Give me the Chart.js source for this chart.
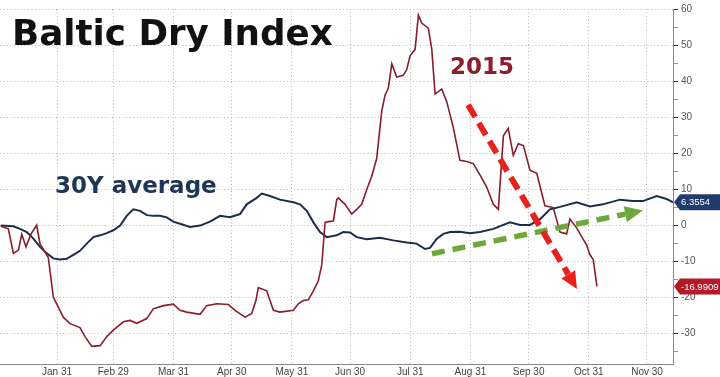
<!DOCTYPE html>
<html><head><meta charset="utf-8">
<script src="https://cdn.jsdelivr.net/npm/chart.js@4.4.0/dist/chart.umd.min.js"></script>
<style>html,body{margin:0;padding:0;background:#fff}#wrap{width:720px;height:377px;position:relative}</style>
</head><body><div id="wrap"><canvas id="c" width="720" height="377"></canvas></div>
<script>
// ---- data ----
const monthTickDays = [30, 59, 90, 120, 151, 181, 212, 243, 273, 304, 334];
const monthTickLabels = ['Jan 31','Feb 29','Mar 31','Apr 30','May 31','Jun 30','Jul 31','Aug 31','Sep 30','Oct 31','Nov 30'];

const avgDays = [1,7.5,10.9,14.4,17.8,21.2,24.7,28.1,31.5,35,38.4,41.8,45.3,48.7,52.2,55.6,59,62.5,65.9,69.3,72.8,76.2,79.6,83.1,86.5,89.9,93.4,98.5,103.7,108.8,114,119.1,124.3,127.7,132.9,135.5,139.7,144.9,151.8,155.2,158.7,162.1,165.5,169,174.1,177.5,181,184.4,189.6,196.4,203.3,210.2,215.3,219.6,222.2,225.6,229,232.5,237.6,242.8,247.9,254.8,263.4,268.6,273.7,278.9,284,289.2,297.8,304.6,311.3,320.1,326.8,331.9,339,344.1,347.4];
const avgValues = [-0.1,-0.3,-1.0,-1.9,-3.7,-6.0,-7.8,-9.2,-9.5,-9.3,-8.2,-7.1,-5.1,-3.3,-2.8,-2.2,-1.4,-0.1,2.6,4.4,4.0,2.8,2.6,2.6,2.2,1.0,0.4,-0.5,-0.1,1.0,2.6,2.2,3.1,5.8,7.6,8.8,8.1,7.1,6.4,5.8,4.0,0.8,-1.9,-3.3,-2.8,-1.9,-2.0,-3.3,-3.9,-3.5,-4.2,-4.8,-5.1,-6.6,-6.3,-3.8,-2.4,-1.9,-1.8,-2.2,-1.9,-1.0,0.8,0.1,0.1,1.7,4.4,5.1,6.4,5.2,5.8,7.1,6.7,6.7,8.1,7.3,6.3554];

const bdiDays = [1,4.9,7.5,10.1,11.8,14,16.6,19.5,21.2,25.5,28.1,29.8,33.2,36.7,41.8,44.4,47.9,52.2,55.6,59,64.2,67.6,71.1,76.2,79.6,84.8,89.9,93.4,96.8,103.7,107.1,112.3,118.3,121.7,126.9,130.3,132.5,133.7,138,141.5,144.9,151.8,154.3,156.9,159.5,162.1,164.6,166.4,168.1,169.8,172.4,174.1,175,178.4,181.8,184.4,187,189.6,192.1,194.7,197.3,199,200.7,202.5,205,208.4,210.2,211.9,214.5,216.2,217.9,221.3,223.1,224.8,228.2,230.8,234.2,237.6,241.1,244.5,248,251.4,254.8,257.4,260,262.5,265.1,267.7,270.3,273.7,277.2,281.4,285.7,289.2,292.6,294.3,297.8,302.9,304.6,306.3,308.2];
const bdiValues = [-0.3,-1.0,-7.8,-6.9,-2.5,-6.0,-2.4,0,-5.1,-9.0,-20.0,-21.8,-25.5,-27.3,-28.4,-30.9,-33.6,-33.4,-30.9,-29.1,-26.8,-26.4,-27.2,-25.9,-23.2,-22.3,-21.9,-23.6,-24.1,-24.7,-22.3,-21.8,-22.0,-23.6,-25.5,-24.5,-20.9,-17.3,-18.2,-23.6,-24.1,-23.6,-21.8,-20.9,-20.7,-18.2,-15.5,-11.0,0.8,1.0,1.2,7.1,7.6,5.8,3.1,4.4,5.8,9.9,13.5,18.5,31.6,36.1,38.0,44.8,41.1,41.6,43.2,47.0,48.8,58.3,56.1,54.7,48.8,36.4,37.8,34.3,27.1,18.0,17.7,17.1,13.9,10.6,5.8,4.4,24.8,26.9,19.4,22.6,22.1,15.3,14.4,5.4,4.9,-1.9,-2.4,1.7,-0.8,-5.5,-8.2,-9.5,-16.9909];

// ---- styles ----
const AVG_COLOR = '#1c2d4b';
const BDI_COLOR = '#8a1c2e';
const GRID = '#b9b9b9';
const AXIS_FONT = "'Liberation Sans Narrow','Liberation Sans',Arial,sans-serif";

function pts(xs, ys){ return xs.map((x,i)=>({x:x, y:ys[i]})); }

function arrow(ctx, x1, y1, x2, y2, color, width, dash, headLen, headW){
  const a = Math.atan2(y2-y1, x2-x1);
  const hx = x2 - headLen*Math.cos(a), hy = y2 - headLen*Math.sin(a);
  ctx.save();
  ctx.strokeStyle = color; ctx.lineWidth = width; ctx.setLineDash(dash); ctx.lineCap = 'butt';
  ctx.beginPath(); ctx.moveTo(x1, y1); ctx.lineTo(hx, hy); ctx.stroke();
  ctx.setLineDash([]); ctx.fillStyle = color;
  ctx.beginPath(); ctx.moveTo(x2, y2);
  ctx.lineTo(hx + headW*Math.sin(a), hy - headW*Math.cos(a));
  ctx.lineTo(hx - headW*Math.sin(a), hy + headW*Math.cos(a));
  ctx.closePath(); ctx.fill();
  ctx.restore();
}

const decor = {
  id: 'decor',
  afterDatasetsDraw(chart){
    const ctx = chart.ctx, xs = chart.scales.x, ys = chart.scales.y;
    const P = (d, v) => [xs.getPixelForValue(d), ys.getPixelForValue(v)];
    // green dashed arrow (30Y average trend)
    const g1 = P(223.2, -7.9), g2 = P(331.9, 4.1);
    arrow(ctx, g1[0], g1[1], g2[0], g2[1], '#6fa83a', 5.5, [13, 8], 18, 8);
    // red dashed arrow (2015 trend)
    const r1 = P(241.8, 33.4), r2 = P(297.9, -17.7);
    arrow(ctx, r1[0], r1[1], r2[0], r2[1], '#e8211d', 6, [14, 7], 17, 8);
  },
  afterDraw(chart){
    const ctx = chart.ctx, ys = chart.scales.y, area = chart.chartArea;
    ctx.save();
    ctx.textBaseline = 'alphabetic'; ctx.textAlign = 'left';
    ctx.fillStyle = '#111';
    ctx.font = "bold 35.7px 'DejaVu Sans', Verdana, sans-serif";
    ctx.fillText('Baltic Dry Index', 12, 45);
    ctx.fillStyle = '#1f3556';
    ctx.font = "bold 23px 'DejaVu Sans', Verdana, sans-serif";
    ctx.fillText('30Y average', 55, 193);
    ctx.fillStyle = '#8c1f2e';
    ctx.fillText('2015', 450, 74);
    // last-value tags on the right axis
    const tags = [
      {v: avgValues[avgValues.length-1], c: '#1f3b6b'},
      {v: bdiValues[bdiValues.length-1], c: '#b3192b'}
    ];
    tags.forEach(t => {
      const y = ys.getPixelForValue(t.v), x0 = area.right + 1;
      ctx.fillStyle = t.c;
      ctx.beginPath();
      ctx.moveTo(x0, y);
      ctx.lineTo(x0 + 6, y - 8);
      ctx.lineTo(720, y - 8);
      ctx.lineTo(720, y + 8);
      ctx.lineTo(x0 + 6, y + 8);
      ctx.closePath(); ctx.fill();
      ctx.fillStyle = '#fff';
      ctx.font = "9.5px " + AXIS_FONT;
      ctx.textBaseline = 'middle';
      ctx.fillText(t.v.toFixed(4), x0 + 7, y + 0.5);
    });
    ctx.restore();
  }
};

new Chart(document.getElementById('c'), {
  type: 'line',
  data: {
    datasets: [
      {label: 'BDI 2015', data: pts(bdiDays, bdiValues), borderColor: BDI_COLOR, borderWidth: 1.6, pointRadius: 0, tension: 0, fill: false},
      {label: '30Y average', data: pts(avgDays, avgValues), borderColor: AVG_COLOR, borderWidth: 2, pointRadius: 0, tension: 0, fill: false}
    ]
  },
  options: {
    responsive: false,
    animation: false,
    devicePixelRatio: 1,
    layout: {padding: {top: 2, left: 0, right: 0, bottom: 0}},
    plugins: {legend: {display: false}, tooltip: {enabled: false}, title: {display: false}},
    scales: {
      x: {
        type: 'linear', min: 0.6, max: 347.4,
        afterBuildTicks: s => { s.ticks = monthTickDays.map(v => ({value: v})); },
        afterFit: s => { s.height = 13; },
        ticks: {
          autoSkip: false, maxRotation: 0, padding: 2,
          color: '#444', font: {family: AXIS_FONT, size: 10},
          callback: (v, i) => monthTickLabels[i]
        },
        grid: {color: GRID, lineWidth: 1, drawTicks: false},
        border: {display: true, color: '#8a8a8a', width: 1, dash: [1, 2.5]}
      },
      y: {
        type: 'linear', position: 'right', min: -38.5, max: 60,
        afterFit: s => { s.width = 47; },
        ticks: {
          stepSize: 5, includeBounds: false, autoSkip: false, padding: 3,
          color: '#555', font: {family: AXIS_FONT, size: 10},
          callback: v => (v % 10 === 0 ? String(v) : '')
        },
        grid: {
          color: c => (c.tick && c.tick.value % 10 === 0 ? GRID : 'rgba(0,0,0,0)'),
          tickColor: c => (c.tick && c.tick.value % 10 === 0 ? '#333' : '#999'),
          lineWidth: 1, drawTicks: true, tickLength: 5
        },
        border: {display: true, color: '#8a8a8a', width: 1, dash: [1, 2.5]}
      }
    }
  },
  plugins: [decor]
});
</script>
</body></html>
